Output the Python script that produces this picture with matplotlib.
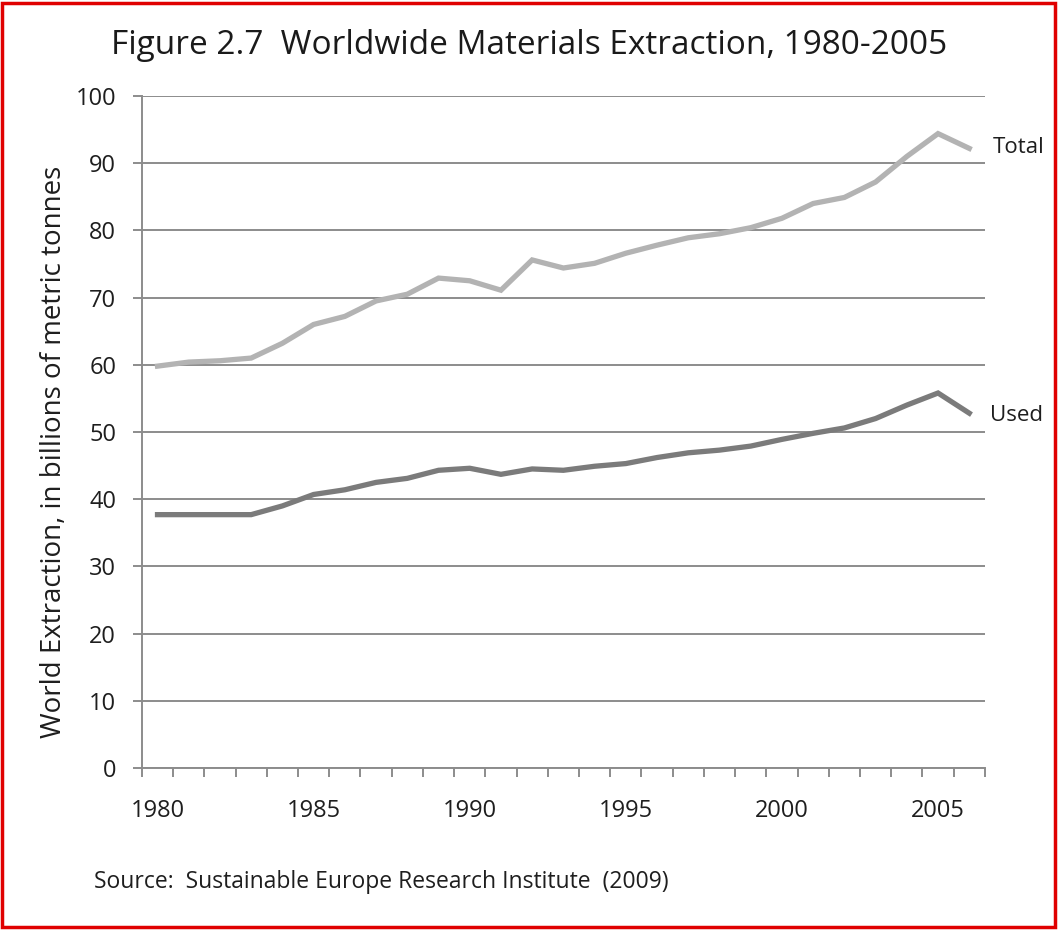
import matplotlib
matplotlib.use("Agg")
import matplotlib.pyplot as plt
from matplotlib.patches import Rectangle
import numpy as np

years = list(range(1980, 2007))
total = [59.8, 60.4, 60.6, 61.0, 63.2, 66.0, 67.2, 69.5, 70.5, 72.9, 72.5, 71.1,
         75.6, 74.4, 75.1, 76.6, 77.8, 78.9, 79.5, 80.4, 81.8, 84.0, 84.9, 87.2,
         91.0, 94.4, 92.2]
used = [37.7, 37.7, 37.7, 37.7, 39.0, 40.7, 41.4, 42.5, 43.1, 44.3, 44.6, 43.7,
        44.5, 44.3, 44.9, 45.3, 46.2, 46.9, 47.3, 47.9, 48.9, 49.8, 50.6, 52.0,
        54.0, 55.8, 52.8]
year_labels = [1980, 1985, 1990, 1995, 2000, 2005]
y_ticks = list(range(0, 101, 10))

plt.rcParams['font.family'] = ['Open Sans', 'DejaVu Sans']

fig = plt.figure(figsize=(10.59, 9.30), dpi=100)
ax = fig.add_axes([0.134, 0.1742, 0.796, 0.7226])

grid_c = '#8c8c8c'
text_c = '#1e1e1e'
ax.plot(years, total, color='#b3b3b3', lw=3.8, solid_joinstyle='miter', zorder=3)
ax.plot(years, used, color='#7b7b7b', lw=3.8, solid_joinstyle='miter', zorder=3)

ax.set_xlim(years[0] - 0.5, years[-1] + 0.5)
ax.set_ylim(0, 100)
ax.set_yticks(y_ticks)
ax.yaxis.grid(True, color=grid_c, lw=1.4)
ax.set_axisbelow(True)

ax.set_xticks(year_labels)
ax.set_xticks(np.arange(years[0] - 0.5, years[-1] + 1.0, 1.0), minor=True)
ax.tick_params(axis='x', which='major', length=0, pad=22, labelsize=17, labelcolor=text_c)
ax.tick_params(axis='x', which='minor', length=6.5, width=1.4, color=grid_c, direction='out')
ax.tick_params(axis='y', length=6.5, width=1.4, color=grid_c, pad=12, labelsize=17,
               labelcolor=text_c)

for s in ['top', 'right']:
    ax.spines[s].set_visible(False)
for s in ['left', 'bottom']:
    ax.spines[s].set_color(grid_c)
    ax.spines[s].set_linewidth(1.4)

ax.set_ylabel('World Extraction, in billions of metric tonnes', fontsize=20,
              color=text_c)
ax.yaxis.set_label_coords(-0.088, 0.47)

ax.text(years[-1] + 0.75, total[-1] + 0.2, 'Total', fontsize=16, color=text_c,
        va='center', ha='left', clip_on=False)
ax.text(years[-1] + 0.65, used[-1] - 0.3, 'Used', fontsize=16, color=text_c,
        va='center', ha='left', clip_on=False)

fig.text(0.5, 0.951, 'Figure 2.7  Worldwide Materials Extraction, 1980-2005',
         ha='center', va='center', fontsize=24, color='#1a1a1a')
fig.text(0.089, 0.052, 'Source:  Sustainable Europe Research Institute  (2009)',
         ha='left', va='center', fontsize=16.5, color=text_c)

fig.patches.append(Rectangle((0.002, 0.003), 0.994, 0.994, transform=fig.transFigure,
                             fill=False, edgecolor='#e00000', lw=2.5))

fig.savefig('out.png', dpi=100)
